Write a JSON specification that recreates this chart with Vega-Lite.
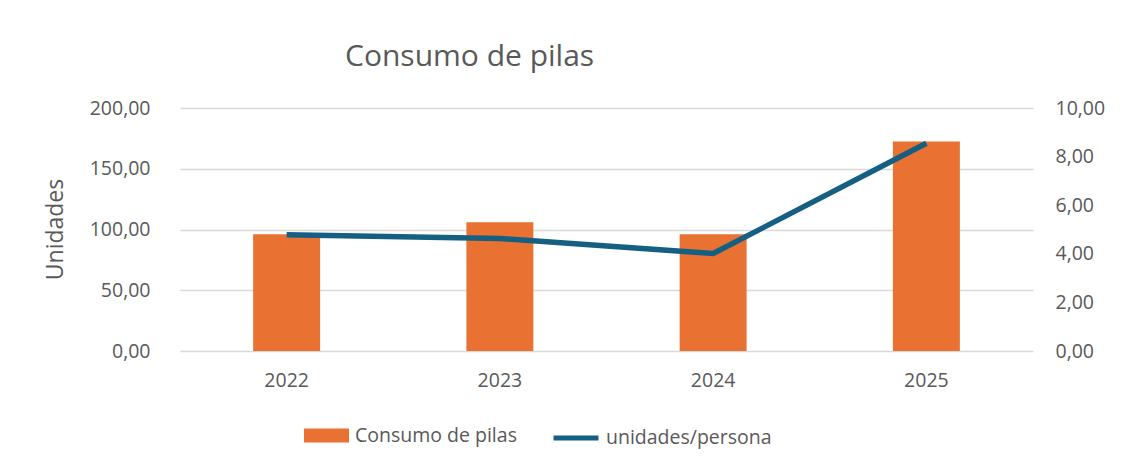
{
  "$schema": "https://vega.github.io/schema/vega-lite/v6.json",
  "autosize": "none",
  "width": 853,
  "height": 243,
  "padding": {"left": 180, "top": 108, "right": 90, "bottom": 119},
  "background": "white",
  "config": {
    "locale": {"number": {"decimal": ",", "thousands": ".", "grouping": [3], "currency": ["", " €"]}},
    "font": "Open Sans",
    "view": {"stroke": null},
    "axis": {"labelColor": "#595959", "titleColor": "#595959", "labelFont": "Open Sans", "titleFont": "Open Sans", "labelFontSize": 19.5, "titleFontWeight": "normal", "gridColor": "#d9d9d9", "gridWidth": 1.5, "domain": false, "ticks": false, "tickSize": 0}
  },
  "title": {
    "text": "Consumo de pilas",
    "anchor": "start",
    "frame": "group",
    "dx": 165,
    "offset": 26,
    "fontSize": 30,
    "fontWeight": "normal",
    "font": "Open Sans",
    "color": "#595959"
  },
  "data": {
    "values": [
      {"year": "2022", "consumo": 96.1, "persona": 4.78},
      {"year": "2023", "consumo": 106.0, "persona": 4.63},
      {"year": "2024", "consumo": 96.1, "persona": 4.01},
      {"year": "2025", "consumo": 172.5, "persona": 8.55}
    ]
  },
  "encoding": {
    "x": {
      "field": "year",
      "type": "ordinal",
      "scale": {"paddingInner": 0, "paddingOuter": 0},
      "axis": {"title": null, "labelAngle": 0, "labelPadding": 20, "grid": false}
    }
  },
  "layer": [
    {
      "mark": {"type": "bar", "width": {"band": 0.314}},
      "encoding": {
        "y": {
          "field": "consumo",
          "type": "quantitative",
          "scale": {"domain": [0, 200]},
          "axis": {"title": "Unidades", "titleFontSize": 23, "titleX": -113, "titleY": 121, "values": [0, 50, 100, 150, 200], "format": ".2f", "labelPadding": 30, "grid": true}
        },
        "fill": {
          "datum": "Consumo de pilas",
          "scale": {"range": ["#E97132"]},
          "legend": {
            "title": null,
            "orient": "none",
            "legendX": 124,
            "legendY": 305,
            "symbolType": "M-1,-0.31H1V0.31H-1Z",
            "symbolSize": 2025,
            "symbolStrokeWidth": 0,
            "labelFontSize": 19.5,
            "labelLimit": 400,
            "labelColor": "#595959",
            "labelFont": "Open Sans",
            "labelOffset": 6
          }
        }
      }
    },
    {
      "mark": {"type": "line", "strokeWidth": 5.5},
      "encoding": {
        "y": {
          "field": "persona",
          "type": "quantitative",
          "scale": {"domain": [0, 10]},
          "axis": {"orient": "right", "title": null, "values": [0, 2, 4, 6, 8, 10], "format": ".2f", "labelPadding": 22, "grid": false}
        },
        "stroke": {
          "datum": "unidades/persona",
          "scale": {"range": ["#156082"]},
          "legend": {
            "title": null,
            "orient": "none",
            "legendX": 371,
            "legendY": 305,
            "symbolType": "stroke",
            "symbolSize": 2025,
            "symbolStrokeWidth": 5,
            "labelFontSize": 19.5,
            "labelLimit": 400,
            "labelColor": "#595959",
            "labelFont": "Open Sans",
            "labelOffset": 5
          }
        }
      }
    }
  ],
  "resolve": {"scale": {"y": "independent", "fill": "independent", "stroke": "independent"}}
}
